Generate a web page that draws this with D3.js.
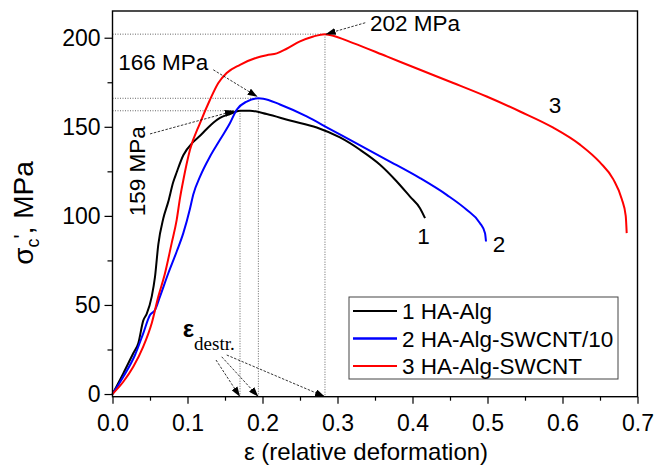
<!DOCTYPE html>
<html><head><meta charset="utf-8">
<script src="https://cdn.jsdelivr.net/npm/d3@7"></script>
<style>
html,body{margin:0;padding:0;background:#fff;}
text{font-family:"Liberation Sans",Arial,sans-serif;fill:#000;}
</style></head>
<body><svg id="c" width="657" height="470"></svg>
<script>
// ---- data ----
const seriesNames = ["1 HA-Alg", "2 HA-Alg-SWCNT/10", "3 HA-Alg-SWCNT"];
const seriesColors = ["#000000", "#0000ff", "#ff0000"];
const eps1 = [0, 0.0144, 0.0277, 0.0344, 0.041, 0.0456, 0.0523, 0.0567, 0.0611, 0.0677, 0.0744, 0.081, 0.0856, 0.0944, 0.1077, 0.1167, 0.1256, 0.1344, 0.1433, 0.1567, 0.17, 0.1833, 0.2056, 0.2367, 0.2723, 0.3033, 0.33, 0.3567, 0.379, 0.3967, 0.41, 0.4167];
const sig1 = [0, 11.6, 22.9, 28.5, 41.2, 45, 54.7, 65.9, 84, 98.5, 108, 119, 124.5, 134, 141.5, 145, 148.8, 152.3, 155, 157.2, 159, 159, 157.2, 153.5, 149.6, 144, 137.1, 128.7, 119.3, 110.8, 104.3, 98.7];
const eps2 = [0, 0.0144, 0.03, 0.041, 0.05, 0.0567, 0.0633, 0.0744, 0.0856, 0.0944, 0.1033, 0.1077, 0.1167, 0.13, 0.1433, 0.1567, 0.1656, 0.179, 0.1945, 0.201, 0.2233, 0.2589, 0.29, 0.321, 0.3656, 0.41, 0.4456, 0.4722, 0.49, 0.4967, 0.498];
const sig2 = [0, 9.7, 21.9, 34.1, 44.4, 47.2, 54.7, 67.8, 80, 90.3, 104, 112, 122, 133.3, 142.7, 152.1, 159.6, 164.2, 166, 165.8, 162.5, 155.8, 148.7, 141.7, 131.5, 121.2, 111.8, 103.4, 95.9, 90.3, 85.6];
const eps3 = [0, 0.0144, 0.0277, 0.041, 0.0523, 0.0611, 0.07, 0.0789, 0.0856, 0.09, 0.0944, 0.1033, 0.1167, 0.13, 0.1411, 0.1522, 0.17, 0.1922, 0.2056, 0.219, 0.2322, 0.25, 0.2678, 0.2833, 0.29, 0.321, 0.3656, 0.41, 0.4544, 0.4989, 0.5433, 0.5877, 0.6233, 0.65, 0.6678, 0.679, 0.6843, 0.6856];
const sig3 = [0, 6.9, 15.3, 26.6, 39.7, 54.7, 67.8, 84.7, 97.8, 110, 120, 137.1, 152.1, 165.2, 174.6, 180.2, 184.8, 188.8, 190.2, 191.2, 193.8, 197.9, 200.7, 202, 201.5, 197, 189.5, 182, 174.6, 167, 158.6, 149.5, 140, 130, 120.5, 109.5, 100, 90.3];
const curveLabels = ["1", "2", "3"];
const peakValues = [159, 166, 202];
const peakEps = [0.17, 0.1945, 0.2833];
const xTicks = [0, 0.1, 0.2, 0.3, 0.4, 0.5, 0.6, 0.7];
const yTicks = [0, 50, 100, 150, 200];

// ---- layout ----
const svg = d3.select("#c");
const x = d3.scaleLinear().domain([0, 0.7]).range([112.5, 637.5]);
const y = d3.scaleLinear().domain([-1.5, 215]).range([396.7, 11]);
const series = [[eps1, sig1], [eps2, sig2], [eps3, sig3]];

// dotted guide lines
const guide = svg.append("g").attr("stroke", "#555").attr("stroke-width", 0.9).attr("stroke-dasharray", "1,1.5").attr("fill", "none");
peakValues.forEach((v, i) => {
  guide.append("line").attr("x1", x(0)).attr("x2", x(peakEps[i])).attr("y1", y(v)).attr("y2", y(v));
  guide.append("line").attr("x1", x(peakEps[i])).attr("x2", x(peakEps[i])).attr("y1", y(v)).attr("y2", y(-1.5));
});

// curves
const line = d3.line().x(d => x(d[0])).y(d => y(d[1])).curve(d3.curveMonotoneX);
series.forEach((s, i) => {
  const pts = s[0].map((e, j) => [e, s[1][j]]);
  svg.append("path").datum(pts).attr("d", line).attr("fill", "none")
    .attr("stroke", seriesColors[i]).attr("stroke-width", 2).attr("stroke-linejoin", "round");
});

// axes
const yMajor = d3.axisLeft(y).tickValues(yTicks).tickSize(8).tickPadding(4);
const yMinor = d3.axisLeft(y).tickValues([25, 75, 125, 175]).tickSize(5).tickFormat("");
const xMajor = d3.axisBottom(x).tickValues(xTicks).tickSize(7).tickPadding(11).tickFormat(d3.format(".1f"));
const xMinor = d3.axisBottom(x).tickValues([0.05, 0.15, 0.25, 0.35, 0.45, 0.55, 0.65]).tickSize(4).tickFormat("");
function styleAxis(g) {
  g.select(".domain").remove();
  g.selectAll("line").attr("stroke", "#000").attr("stroke-width", 1.2);
  g.selectAll("text").attr("font-size", 23).attr("font-family", "Liberation Sans, Arial, sans-serif");
}
svg.append("g").attr("transform", `translate(${x(0)},0)`).call(yMajor).call(styleAxis);
svg.append("g").attr("transform", `translate(${x(0)},0)`).call(yMinor).call(styleAxis);
svg.append("g").attr("transform", `translate(0,${y(-1.5)})`).call(xMajor).call(styleAxis);
svg.append("g").attr("transform", `translate(0,${y(-1.5)})`).call(xMinor).call(styleAxis);

// frame
svg.append("rect").attr("x", x(0)).attr("y", y(215)).attr("width", x(0.7) - x(0)).attr("height", y(-1.5) - y(215))
  .attr("fill", "none").attr("stroke", "#000").attr("stroke-width", 1.4);

// axis titles
svg.append("text").attr("x", 366).attr("y", 460).attr("text-anchor", "middle").attr("font-size", 24)
  .text("ε (relative deformation)");
const yt = svg.append("text").attr("transform", "translate(33,213) rotate(-90)").attr("text-anchor", "middle").attr("font-size", 28);
yt.append("tspan").text("σ");
yt.append("tspan").attr("font-size", 18).attr("dy", 6).text("c");
yt.append("tspan").attr("font-size", 22).attr("dy", -10).text("'");
yt.append("tspan").attr("dy", 4).text(", MPa");

// arrow marker
const defs = svg.append("defs");
defs.append("marker").attr("id", "ah").attr("markerUnits", "userSpaceOnUse")
  .attr("markerWidth", 10).attr("markerHeight", 7).attr("refX", 10).attr("refY", 3.5).attr("orient", "auto")
  .append("path").attr("d", "M0,0 L10,3.5 L0,7 Z").attr("fill", "#000");
function arrow(e0, s0, e1, s1) {
  svg.append("line").attr("x1", x(e0)).attr("y1", y(s0)).attr("x2", x(e1)).attr("y2", y(s1))
    .attr("stroke", "#000").attr("stroke-width", 0.8).attr("stroke-dasharray", "2.5,1.5").attr("marker-end", "url(#ah)");
}

// peak annotations
svg.append("text").attr("x", x(0.3433)).attr("y", y(203.5)).attr("font-size", 22.5).text(peakValues[2] + " MPa");
arrow(0.337, 208.4, peakEps[2] + 0.001, peakValues[2]);
svg.append("text").attr("x", x(0.0077)).attr("y", y(182)).attr("font-size", 22.5).text(peakValues[1] + " MPa");
arrow(0.1344, 182, peakEps[1] - 0.001, peakValues[1] + 0.8);
svg.append("text").attr("transform", `translate(${x(0.0433)},${y(125)}) rotate(-90)`).attr("text-anchor", "middle")
  .attr("font-size", 22.5).text(peakValues[0] + " MPa");
arrow(0.05, 146, 0.163, 159);

// epsilon destr.
const ed = svg.append("text").attr("x", x(0.0936)).attr("y", 337);
ed.append("tspan").attr("font-size", 24).attr("font-weight", "bold").text("ε");
ed.append("tspan").attr("font-family", "Liberation Serif, Times New Roman, serif").attr("font-size", 19).attr("dy", 13).text("destr.");
arrow(0.138, 19.1, peakEps[0], -1.5);
arrow(0.1456, 20.9, peakEps[1], -1.5);
arrow(0.1523, 21.9, peakEps[2], -1.5);

// curve number labels
const lblPos = [[0.4147, 84], [0.5153, 80], [0.59, 157.7]];
lblPos.forEach((p, i) => {
  svg.append("text").attr("x", x(p[0])).attr("y", y(p[1])).attr("text-anchor", "middle").attr("font-size", 22.5).text(curveLabels[i]);
});

// legend
const lg = svg.append("g");
lg.append("rect").attr("x", 349).attr("y", 297).attr("width", 269).attr("height", 82)
  .attr("fill", "#fff").attr("stroke", "#444").attr("stroke-width", 1);
seriesNames.forEach((n, i) => {
  const yy = 311 + i * 27.5;
  lg.append("line").attr("x1", 353).attr("x2", 397).attr("y1", yy).attr("y2", yy)
    .attr("stroke", seriesColors[i]).attr("stroke-width", i === 1 ? 2.5 : 1.8);
  lg.append("text").attr("x", 402).attr("y", yy).attr("dy", "0.36em").attr("font-size", 22.5).text(n);
});
</script></body></html>
